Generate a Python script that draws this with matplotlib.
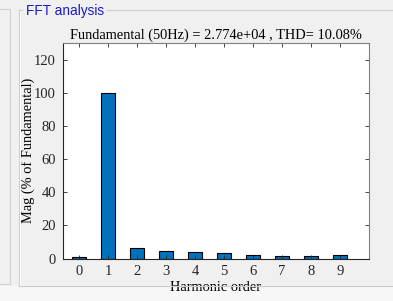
import matplotlib
matplotlib.use("Agg")
import matplotlib.pyplot as plt
from matplotlib.lines import Line2D
import numpy as np

harmonics = [0, 1, 2, 3, 4, 5, 6, 7, 8, 9]
magnitude = [1.2, 100, 6.3, 4.8, 3.8, 3.2, 2.0, 1.6, 1.8, 2.4]
title_text = "Fundamental (50Hz) = 2.774e+04 , THD= 10.08%"
panel_title = "FFT analysis"

W, H = 393, 301
fig = plt.figure(figsize=(W / 100, H / 100), dpi=100)
fig.patch.set_facecolor("#f0f0f0")

def px(x, y):
    return x / W, 1 - y / H

def hline(x0, x1, y, color, lw=1.0):
    a, b = px(x0, y)
    c, _ = px(x1, y)
    fig.add_artist(Line2D([a, c], [b, b], transform=fig.transFigure, color=color, lw=lw))

def vline(x, y0, y1, color, lw=1.0):
    a, b = px(x, y0)
    _, d = px(x, y1)
    fig.add_artist(Line2D([a, a], [b, d], transform=fig.transFigure, color=color, lw=lw))

# lighter strip below the panels
fig.add_artist(plt.Rectangle((0, 0), 1, 15 / H, transform=fig.transFigure,
                             color="#f7f7f7", zorder=0))

# left panel border
hline(0, 9, 8.5, "#d0d0d0", 0.8)
vline(9.5, 8.5, 284, "#d0d0d0", 0.8)
hline(0, 9.5, 284, "#d0d0d0", 0.8)

# group box
gb_col = "#cdcdcd"
hline(18.5, 22, 9.5, gb_col, 0.8)
hline(107, W, 9.5, gb_col, 0.8)
vline(18.5, 9.5, 285.5, gb_col, 0.8)
vline(20, 11, 284, "#ffffff", 0.8)
hline(18.5, W, 285.5, gb_col, 0.8)
fig.text(*px(25.5, 10.5), panel_title, color="#1a1ac8", fontsize=9.8,
         family="Liberation Sans", va="center", ha="left")

serif = "Liberation Serif"
ax = fig.add_axes([63 / W, 1 - 258.5 / H, (369 - 63) / W, (258.5 - 43) / H])
ax.bar(harmonics, magnitude, width=0.5, color="#0072BD", edgecolor="black", linewidth=0.8)
ax.set_xlim(-0.55, 10)
ax.set_ylim(0, 130)
ax.set_xticks(harmonics)
ax.set_yticks([0, 20, 40, 60, 80, 100, 120])
ax.tick_params(direction="in", top=True, right=True, length=3, width=0.6,
               colors="#262626", labelsize=10.5, pad=5)
for lab in ax.get_xticklabels() + ax.get_yticklabels():
    lab.set_family(serif)
for s in ax.spines.values():
    s.set_linewidth(0.8)
ax.spines["left"].set_color("#262626")
ax.spines["bottom"].set_color("#262626")
ax.spines["top"].set_color("#808080")
ax.spines["right"].set_color("#808080")
ax.set_title(title_text, family=serif, fontsize=10.4, pad=3, color="black")
ax.set_xlabel("Harmonic order", family=serif, fontsize=10.4, labelpad=1.5)
ax.set_ylabel("Mag (% of Fundamental)", family=serif, fontsize=10.4)
ax.yaxis.set_label_coords((35 - 63) / 306, 0.5)

fig.savefig("out.png", dpi=100, facecolor=fig.get_facecolor())
